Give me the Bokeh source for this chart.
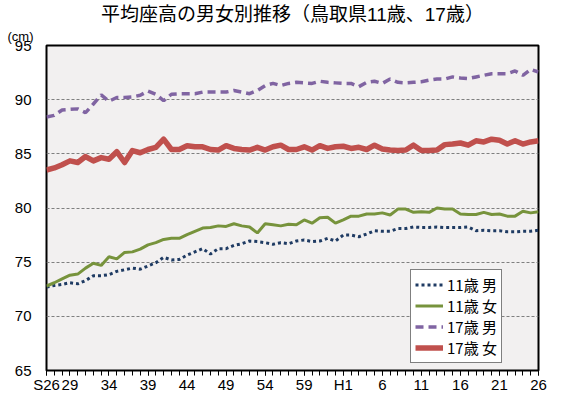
from bokeh.plotting import figure
from bokeh.models import FixedTicker, Legend, LegendItem, Range1d, Title
from bokeh.embed import file_html
from bokeh.resources import INLINE

# ---- data ----
years = list(range(1951, 2015))

boys11 = [72.7, 72.85, 72.95, 73.1, 73.0, 73.3, 73.75, 73.75, 73.85, 74.15,
          74.3, 74.45, 74.35, 74.65, 74.95, 75.45, 75.2, 75.25, 75.65, 75.95,
          76.25, 75.75, 76.25, 76.25, 76.55, 76.7, 76.95, 76.9, 76.8, 76.65,
          76.8, 76.7, 76.95, 77.05, 76.9, 76.95, 77.2, 76.95, 77.5, 77.5,
          77.35, 77.6, 77.9, 77.85, 77.85, 78.1, 78.1, 78.25, 78.2, 78.2,
          78.25, 78.2, 78.2, 78.2, 78.25, 77.9, 77.95, 77.9, 77.9, 77.8,
          77.8, 77.85, 77.85, 77.95]

girls11 = [72.8, 73.1, 73.45, 73.8, 73.9, 74.45, 74.9, 74.7, 75.5, 75.3,
           75.9, 75.95, 76.2, 76.6, 76.8, 77.1, 77.2, 77.2, 77.55, 77.85,
           78.15, 78.2, 78.35, 78.3, 78.55, 78.35, 78.25, 77.7, 78.55, 78.45,
           78.35, 78.5, 78.45, 78.9, 78.6, 79.1, 79.15, 78.6, 78.9, 79.25,
           79.25, 79.45, 79.45, 79.55, 79.35, 79.9, 79.9, 79.6, 79.65, 79.6,
           80.0, 79.9, 79.9, 79.45, 79.4, 79.4, 79.6, 79.4, 79.45, 79.25,
           79.25, 79.7, 79.55, 79.65]

boys17 = [88.4, 88.55, 89.05, 89.1, 89.15, 88.8, 89.6, 90.45, 89.85, 90.2,
          90.2, 90.25, 90.4, 90.8, 90.5, 89.9, 90.5, 90.55, 90.55, 90.55,
          90.7, 90.7, 90.7, 90.7, 90.85, 90.7, 90.55, 90.85, 91.3, 91.5,
          91.3, 91.5, 91.6, 91.55, 91.5, 91.7, 91.6, 91.55, 91.5, 91.5,
          91.2, 91.6, 91.7, 91.5, 91.9, 91.6, 91.55, 91.6, 91.65, 91.8,
          91.9, 91.9, 92.1, 92.0, 91.95, 92.1, 92.25, 92.4, 92.4, 92.4,
          92.65, 92.25, 92.8, 92.55]

girls17 = [83.5, 83.7, 84.0, 84.35, 84.2, 84.75, 84.35, 84.65, 84.5, 85.2,
           84.2, 85.3, 85.1, 85.4, 85.6, 86.35, 85.4, 85.4, 85.75, 85.65,
           85.65, 85.4, 85.35, 85.75, 85.5, 85.4, 85.35, 85.6, 85.35, 85.65,
           85.8, 85.4, 85.4, 85.65, 85.35, 85.75, 85.5, 85.65, 85.7, 85.5,
           85.6, 85.4, 85.8, 85.45, 85.35, 85.3, 85.35, 85.8, 85.3, 85.3,
           85.35, 85.85, 85.9, 86.0, 85.8, 86.2, 86.1, 86.35, 86.25, 85.9,
           86.2, 85.9, 86.1, 86.2]

label_years = [1951, 1954, 1959, 1964, 1969, 1974, 1979, 1984, 1989, 1994, 1999, 2004, 2009, 2014]
label_texts = ["S26", "29", "34", "39", "44", "49", "54", "59", "H1", "6", "11", "16", "21", "26"]
y_ticks = [65, 70, 75, 80, 85, 90, 95]

series_names = ["11歳 男", "11歳 女", "17歳 男", "17歳 女"]

TITLE = "平均座高の男女別推移（鳥取県11歳、17歳）"
UNIT = "(cm)"
JP = "Noto Sans CJK JP"
TITLE_FONT = "Liberation Sans, Noto Sans CJK JP"
NUM = "Liberation Sans Narrow, Liberation Sans, sans-serif"

p = figure(width=580, height=395, output_backend="svg", toolbar_location=None,
           x_range=Range1d(years[0], years[-1]), y_range=Range1d(y_ticks[0], y_ticks[-1]),
           min_border_left=46, min_border_right=42, min_border_top=45, min_border_bottom=24)

p.background_fill_color = "#F2F0F0"
p.border_fill_color = "white"
p.outline_line_color = "black"
p.outline_line_width = 2
p.outline_line_alpha = 1.0

# titles: main title (outer), unit label (next to the frame)
p.title.text = TITLE
p.title.align = "center"
p.title.offset = -6
p.title.standoff = 0
p.title.text_font = TITLE_FONT
p.title.text_font_size = "19px"
p.title.text_font_style = "normal"
p.title.text_color = "black"

unit_title = Title(text=UNIT, align="left", offset=-39, standoff=4,
                   text_font=NUM, text_font_size="13px",
                   text_font_style="normal", text_color="black")
p.add_layout(unit_title, "above")

# grid
p.xgrid.visible = False
p.ygrid.ticker = FixedTicker(ticks=y_ticks[1:-1])
p.ygrid.grid_line_color = "#7F7F7F"
p.ygrid.grid_line_dash = "3 2"
p.ygrid.grid_line_width = 1

# y axis
p.yaxis.ticker = FixedTicker(ticks=y_ticks)
p.yaxis.axis_line_color = None
p.yaxis.major_tick_line_color = None
p.yaxis.minor_tick_line_color = None
p.yaxis.major_label_text_font = NUM
p.yaxis.major_label_text_font_size = "15px"
p.yaxis.major_label_text_color = "black"
p.yaxis.major_label_standoff = 9

# x axis
p.xaxis.ticker = FixedTicker(ticks=label_years, minor_ticks=years)
p.xaxis.major_label_overrides = {y: t for y, t in zip(label_years, label_texts)}
p.xaxis.axis_line_color = None
p.xaxis.major_tick_in = 0
p.xaxis.major_tick_out = 5
p.xaxis.minor_tick_in = 0
p.xaxis.minor_tick_out = 5
p.xaxis.major_tick_line_color = "black"
p.xaxis.minor_tick_line_color = "black"
p.xaxis.major_label_text_font = NUM
p.xaxis.major_label_text_font_size = "15px"
p.xaxis.major_label_text_color = "black"
p.xaxis.major_label_standoff = 0

r1 = p.line(years, boys11, line_color="#1F3B63", line_width=3, line_dash="3 3")
r2 = p.line(years, girls11, line_color="#77933C", line_width=3)
r3 = p.line(years, boys17, line_color="#8064A2", line_width=3.5, line_dash="8 5")
r4 = p.line(years, girls17, line_color="#C0504D", line_width=5.5, line_join="round")

legend = Legend(items=[LegendItem(label=n, renderers=[r]) for n, r in zip(series_names, [r1, r2, r3, r4])],
                location=(364, 7), orientation="vertical",
                label_text_font=JP, label_text_font_size="15px", label_text_color="black",
                glyph_width=28, glyph_height=19, label_height=19, label_standoff=4,
                spacing=0, padding=4, margin=0,
                border_line_color="black", border_line_width=1,
                background_fill_color="white", background_fill_alpha=1.0)
p.add_layout(legend, "center")

open("out.html", "w").write(file_html(p, INLINE))
